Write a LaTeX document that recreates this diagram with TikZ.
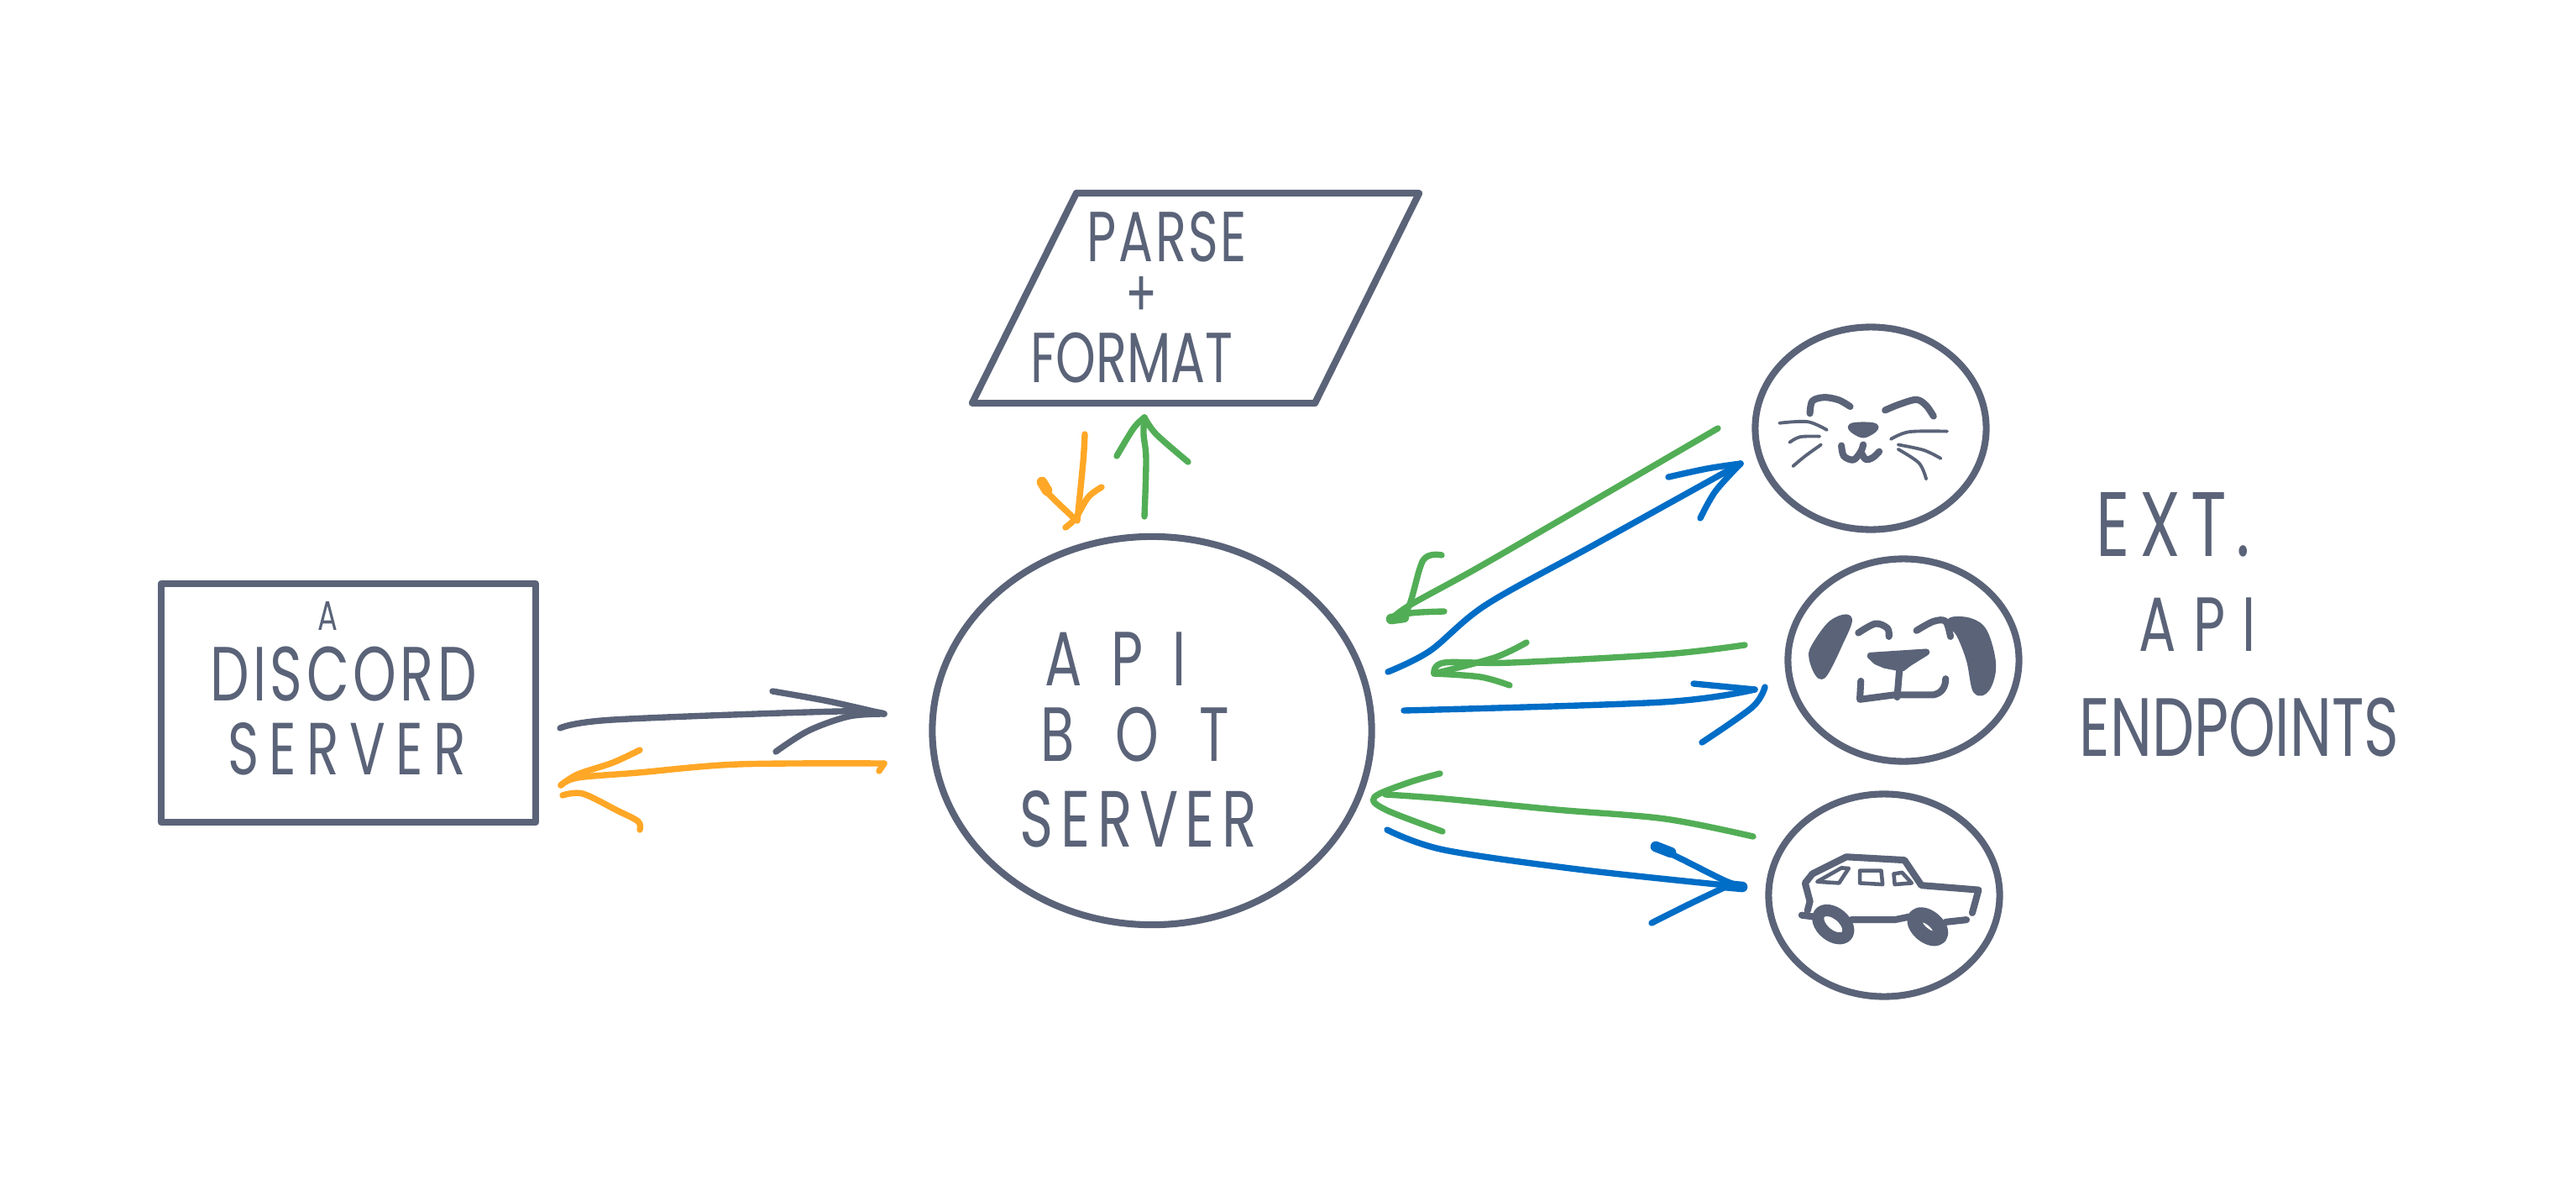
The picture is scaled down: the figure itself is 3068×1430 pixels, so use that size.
\documentclass[tikz,border=0pt]{standalone}
\usepackage{fontspec}
\usepackage{tikz}
\usetikzlibrary{shapes.geometric}
\setmainfont[FakeStretch=0.72]{Poppins}
\definecolor{slate}{HTML}{5A6378}
\definecolor{leaf}{HTML}{52AE56}
\definecolor{azure}{HTML}{006DC6}
\definecolor{amber}{HTML}{FFA726}
\newcommand{\HandLine}[2][ink]{\draw[#1] plot[smooth, tension=0.55] coordinates {#2};}
\newcommand{\Wide}[2]{\addfontfeature{LetterSpace=#1}#2}
\tikzset{
  ink/.style={draw=slate, line width=2.3pt, line cap=round, line join=round},
  hair/.style={ink, line width=1.1pt},
  blob/.style={ink, fill=slate},
  greenline/.style={draw=leaf, line width=2.1pt, line cap=round, line join=round},
  blueline/.style={draw=azure, line width=2.1pt, line cap=round, line join=round},
  amberline/.style={draw=amber, line width=2.1pt, line cap=round, line join=round},
  darkline/.style={ink, line width=2.1pt},
  hand/.style={text=slate, inner sep=0pt, font=\fontsize{#1}{#1}\selectfont},
  shapenode/.style={ink, outer sep=0pt, inner sep=0pt},
  facecircle/.style={shapenode, ellipse, minimum width=2.75cm, minimum height=2.41cm}
}
\begin{document}
\begin{tikzpicture}[x=0.01cm, y=-0.01cm]
  \useasboundingbox (0,0) rectangle (3068,1430);

  % shapes
  \node[shapenode, rectangle, minimum width=4.46cm, minimum height=2.84cm] (discord) at (415,837) {};
  \node[shapenode, trapezium, trapezium left angle=63.6, trapezium right angle=116.4,
    text width=2.84cm, text height=2.5cm, text depth=0pt] (parse) at (1424,355) {};
  \node[shapenode, ellipse, minimum width=5.23cm, minimum height=4.62cm] (bot) at (1372,870) {};
  \node[facecircle] (cat) at (2228,510) {};
  \node[facecircle] (dog) at (2267,786) {};
  \node[facecircle] (car) at (2244,1066) {};

  % labels
  \node[hand=14] (discorda) at (390,733) {A};
  \node[hand=26] (discordname) at (409,803) {\Wide{5}{DISCORD}};
  \node[hand=25] (discordserver) at (413,892) {\Wide{14}{SERVER}};
  \node[hand=24] (parseword) at (1390,282) {\Wide{3}{PARSE}};
  \node[hand=22] (parseplus) at (1360,353) {+};
  \node[hand=24] (formatword) at (1348,426) {FORMAT};
  \node[hand=26] (botapi) at (1329,785) {\Wide{38}{API}};
  \node[hand=26] (botword) at (1352,875) {\Wide{53}{BOT}};
  \node[hand=27] (botserver) at (1356,975) {\Wide{9}{SERVER}};
  \node[hand=31] (extword) at (2588,625) {\Wide{11}{EXT.}};
  \node[hand=26] (extapi) at (2617,744) {\Wide{22}{API}};
  \node[hand=28] (extend) at (2667,866) {ENDPOINTS};

  % discord <-> bot
  \coordinate (discordout) at (667,867);
  \coordinate (botin) at (1053,850);
  \coordinate (botback) at (1053,909);
  \coordinate (discordin) at (668,935);
  \HandLine[darkline]{(discordout) (730,857) (999,847) (botin)}
  \HandLine[darkline]{(920,823) (987,835) (botin)}
  \HandLine[darkline]{(924,895) (963,870) (1011,853) (botin)}
  \HandLine[amberline]{(botback) (879,910) (760,920) (688,926) (discordin)}
  \HandLine[amberline]{(762,893) (730,908) (688,922) (discordin)}
  \HandLine[amberline]{(670,947) (694,945) (735,965) (760,978) (762,988)}
  \draw[amberline] (1047,918) -- (botback);

  % parse <-> bot
  \coordinate (parsedown) at (1292,517);
  \coordinate (botintop) at (1269,628);
  \coordinate (botouttop) at (1363,615);
  \coordinate (parsein) at (1363,497);
  \HandLine[amberline]{(parsedown) (1290,550) (1283,620)}
  \HandLine[amberline]{(1242,575) (1248,587) (1277,615)}
  \HandLine[amberline]{(1312,580) (1296,592) (1281,617) (botintop)}
  \HandLine[greenline]{(botouttop) (1365,547) (1362,517) (parsein)}
  \HandLine[greenline]{(1330,543) (1350,510) (parsein)}
  \HandLine[greenline]{(parsein) (1377,517) (1415,550)}
  \draw[amberline, line width=3.6pt] (1241,574) -- (1247,584);

  % bot <-> cat
  \coordinate (catback) at (2046,510);
  \coordinate (botcat) at (1657,737);
  \coordinate (botcatout) at (1653,800);
  \coordinate (catin) at (2073,552);
  \HandLine[greenline]{(catback) (1900,595) (1760,676) (1680,720) (botcat)}
  \HandLine[greenline]{(1717,661) (1695,667) (1677,724) (botcat)}
  \HandLine[greenline]{(1720,728) (1680,730) (botcat)}
  \draw[greenline, line width=3.6pt] (botcat) -- (1672,735);
  \HandLine[blueline]{(botcatout) (1703,775) (1770,720) (1900,648) (catin)}
  \HandLine[blueline]{(1987,568) (2033,558) (catin)}
  \HandLine[blueline]{(catin) (2043,585) (2025,617)}

  % bot <-> dog
  \coordinate (dogback) at (2078,768);
  \coordinate (botdog) at (1708,802);
  \coordinate (botdogout) at (1672,846);
  \coordinate (dogin) at (2090,821);
  \HandLine[greenline]{(dogback) (1983,779) (1800,789) (1720,789) (botdog)}
  \HandLine[greenline]{(1818,765) (1780,783) (botdog)}
  \HandLine[greenline]{(1798,816) (1763,806) (botdog)}
  \HandLine[blueline]{(botdogout) (1980,836) (dogin)}
  \HandLine[blueline]{(2017,814) (dogin)}
  \HandLine[blueline]{(2102,818) (2087,842) (2027,884)}

  % bot <-> car
  \coordinate (carback) at (2088,996);
  \coordinate (botcar) at (1650,946);
  \coordinate (botcarout) at (1652,988);
  \coordinate (carin) at (2075,1056);
  \HandLine[greenline]{(carback) (1983,975) (1853,964) (1720,951) (botcar)}
  \HandLine[greenline]{(1715,921) (1677,932) (1637,949) (1650,964) (1718,990)}
  \HandLine[blueline]{(botcarout) (1720,1012) (1887,1036) (carin)}
  \HandLine[blueline]{(1972,1008) (2003,1023) (2053,1048) (carin)}
  \HandLine[blueline]{(1967,1099) (2013,1076) (2053,1057)}
  \draw[blueline, line width=3.6pt] (2053,1054) -- (carin);
  \draw[blueline, line width=3.6pt] (1972,1008) -- (1990,1015);

  % faces and car, in the scale of the crop
  \begin{scope}[shift={(2020,360)}, x=0.00577cm, y=-0.00546cm]
    % cat
    \HandLine{(235,242) (240,215) (265,207) (295,213) (318,227)}
    \HandLine{(390,235) (420,222) (455,212) (475,225) (490,248)}
    \draw[blob] plot[smooth cycle, tension=0.6] coordinates {(320,272) (345,268) (370,272) (345,288)};
    \HandLine{(300,312) (305,335) (325,343) (340,325) (345,310)}
    \HandLine{(340,325) (350,342) (365,338) (378,325)}
    \HandLine[hair]{(172,263) (230,260) (270,278)}
    \HandLine[hair]{(193,305) (215,293) (255,292)}
    \HandLine[hair]{(200,357) (225,335) (258,310)}
    \HandLine[hair]{(402,298) (440,282) (518,281)}
    \HandLine[hair]{(417,310) (470,322) (505,340)}
    \HandLine[hair]{(417,320) (460,350) (475,385)}
    % dog
    \draw[blob] plot[smooth cycle, tension=0.6] coordinates {(315,690) (280,700) (245,750) (240,775) (252,808) (265,808) (295,745)};
    \draw[blob] plot[smooth cycle, tension=0.6] coordinates {(525,695) (565,695) (595,720) (612,790) (600,840) (578,845) (565,780) (545,725)};
    \HandLine{(335,720) (370,700) (395,710) (398,728)}
    \HandLine{(455,715) (490,695) (515,695) (525,728)}
    \draw[blob] (360,770) -- (475,762) -- (440,785) -- (425,797) -- (390,790) -- (372,782) -- cycle;
    \HandLine{(420,797) (415,860)}
    \draw[ink] (340,825) -- (338,865) -- (410,855) -- (490,855) .. controls (505,852) and (515,840) .. (515,820);
    % car
    \draw[ink] (230,1325) -- (235,1305) -- (225,1265) -- (240,1245) -- (310,1208) -- (430,1215) -- (465,1270) -- (583,1280) -- (570,1330);
    \draw[ink] (218,1335) -- (255,1340);
    \draw[ink] (320,1345) -- (410,1345) -- (470,1332);
    \draw[ink] (515,1350) -- (558,1345);
    \draw[hair, line width=1.3pt] (250,1262) -- (300,1232) -- (315,1233) -- (295,1265) -- cycle;
    \draw[hair, line width=1.3pt] (338,1238) -- (382,1238) -- (385,1268) -- (338,1265) -- cycle;
    \draw[hair, line width=1.3pt] (408,1245) -- (425,1242) -- (445,1265) -- (410,1268) -- cycle;
    \draw[ink, line width=4pt, rotate around={-40:(283,1355)}] (283,1355) ellipse (36 and 24);
    \draw[ink, line width=5pt, rotate around={-40:(478,1360)}] (478,1360) ellipse (32 and 19);
  \end{scope}
\end{tikzpicture}
\end{document}
